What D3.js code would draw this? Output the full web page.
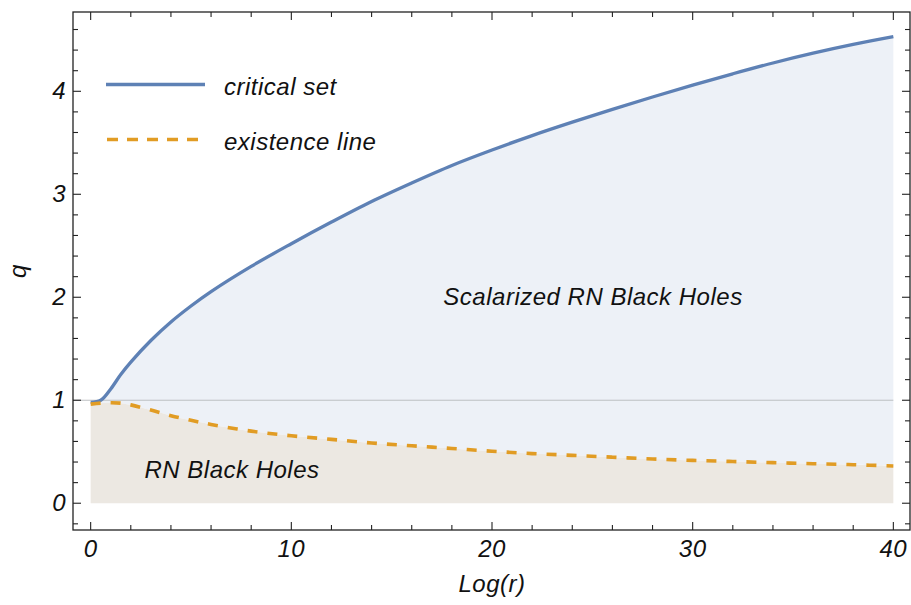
<!DOCTYPE html>
<html><head><meta charset="utf-8">
<script src="https://cdn.jsdelivr.net/npm/d3@7"></script>
<style>
body{margin:0;background:#fff;}
text{font-family:"Liberation Sans",Arial,Helvetica,sans-serif;font-style:italic;fill:#111;letter-spacing:0.5px;}
</style></head>
<body><svg id="c" width="911" height="605"></svg>
<script>
// ---- data ----
const logR = [0, 0.5, 1, 1.5, 2, 3, 4, 5, 6, 8, 10, 12, 14, 16, 18, 20, 22, 24, 26, 28, 30, 32, 34, 36, 38, 40];
const criticalSet = [0.98, 1.0, 1.11, 1.25, 1.37, 1.58, 1.76, 1.915, 2.055, 2.30, 2.52, 2.73, 2.93, 3.11, 3.28, 3.43, 3.57, 3.70, 3.825, 3.945, 4.06, 4.17, 4.275, 4.37, 4.455, 4.53];
const existenceLine = [0.962, 0.972, 0.975, 0.972, 0.955, 0.905, 0.85, 0.805, 0.765, 0.70, 0.655, 0.62, 0.585, 0.558, 0.532, 0.505, 0.482, 0.465, 0.447, 0.43, 0.416, 0.405, 0.394, 0.384, 0.374, 0.362];
const xMajorTicks = [0, 10, 20, 30, 40];
const yMajorTicks = [0, 1, 2, 3, 4];
const legendLabels = ["critical set", "existence line"];
const regionLabels = ["Scalarized RN Black Holes", "RN Black Holes"];

// ---- layout ----
const svg = d3.select("#c");
const L = 73, R = 910, T = 12, B = 530;
const x = d3.scaleLinear().domain([-0.88, 40.83]).range([L, R]);
const y = d3.scaleLinear().domain([-0.26, 4.77]).range([B, T]);
const blue = "#5E81B5", orange = "#E19C24";
const FS = 24;

const pts = logR.map((v, i) => ({x: v, c: criticalSet[i], e: existenceLine[i]}));
const curve = d3.curveCatmullRom.alpha(0.5);

// fills
svg.append("path").datum(pts)
  .attr("d", d3.area().curve(curve).x(d => x(d.x)).y0(d => y(d.e)).y1(d => y(d.c)))
  .attr("fill", "#EDF1F7");
svg.append("path").datum(pts)
  .attr("d", d3.area().curve(curve).x(d => x(d.x)).y0(() => y(0)).y1(d => y(d.e)))
  .attr("fill", "#ECE8E2");

// reference line q = 1
svg.append("line").attr("x1", L).attr("x2", x(40)).attr("y1", y(1)).attr("y2", y(1))
  .attr("stroke", "#BDBFC3").attr("stroke-width", 1);

// curves
svg.append("path").datum(pts)
  .attr("d", d3.line().curve(curve).x(d => x(d.x)).y(d => y(d.c)))
  .attr("fill", "none").attr("stroke", blue).attr("stroke-width", 3.3);
svg.append("path").datum(pts)
  .attr("d", d3.line().curve(curve).x(d => x(d.x)).y(d => y(d.e)))
  .attr("fill", "none").attr("stroke", orange).attr("stroke-width", 3.6)
  .attr("stroke-dasharray", "10,10");

// frame
svg.append("rect").attr("x", L).attr("y", T).attr("width", R - L).attr("height", B - T)
  .attr("fill", "none").attr("stroke", "#222").attr("stroke-width", 1.3);

// ticks (all four sides, inward)
const xMinor = d3.range(0, 41, 2);
const yMinor = d3.range(-0.2, 4.7, 0.2).map(v => Math.round(v * 10) / 10);
const tg = svg.append("g").attr("stroke", "#222").attr("stroke-width", 1.1);
xMinor.forEach(v => {
  const len = xMajorTicks.includes(v) ? 8 : 5;
  tg.append("line").attr("x1", x(v)).attr("x2", x(v)).attr("y1", B).attr("y2", B - len);
  tg.append("line").attr("x1", x(v)).attr("x2", x(v)).attr("y1", T).attr("y2", T + len);
});
yMinor.forEach(v => {
  const len = yMajorTicks.includes(v) ? 8 : 5;
  tg.append("line").attr("x1", L).attr("x2", L + len).attr("y1", y(v)).attr("y2", y(v));
  tg.append("line").attr("x1", R).attr("x2", R - len).attr("y1", y(v)).attr("y2", y(v));
});

// tick labels
xMajorTicks.forEach(v => {
  svg.append("text").attr("x", x(v)).attr("y", 557).attr("text-anchor", "middle")
    .attr("font-size", FS).text(v);
});
yMajorTicks.forEach(v => {
  svg.append("text").attr("x", 66).attr("y", y(v) + 8).attr("text-anchor", "end")
    .attr("font-size", FS).text(v);
});

// axis labels
svg.append("text").attr("x", 492).attr("y", 592).attr("text-anchor", "middle")
  .attr("font-size", FS).text("Log(r)");
svg.append("text").attr("transform", "translate(26,271) rotate(-90)").attr("text-anchor", "middle")
  .attr("font-size", FS).text("q");

// region labels
svg.append("text").attr("x", 593).attr("y", 305).attr("text-anchor", "middle")
  .attr("font-size", FS).text(regionLabels[0]);
svg.append("text").attr("x", 232).attr("y", 478).attr("text-anchor", "middle")
  .attr("font-size", FS).text(regionLabels[1]);

// legend
svg.append("line").attr("x1", 106).attr("x2", 205).attr("y1", 84.5).attr("y2", 84.5)
  .attr("stroke", blue).attr("stroke-width", 3.3);
svg.append("line").attr("x1", 107).attr("x2", 205).attr("y1", 139.5).attr("y2", 139.5)
  .attr("stroke", orange).attr("stroke-width", 3.6).attr("stroke-dasharray", "11,9");
svg.append("text").attr("x", 224).attr("y", 95).attr("font-size", FS).text(legendLabels[0]);
svg.append("text").attr("x", 224).attr("y", 150).attr("font-size", FS).text(legendLabels[1]);
</script></body></html>
